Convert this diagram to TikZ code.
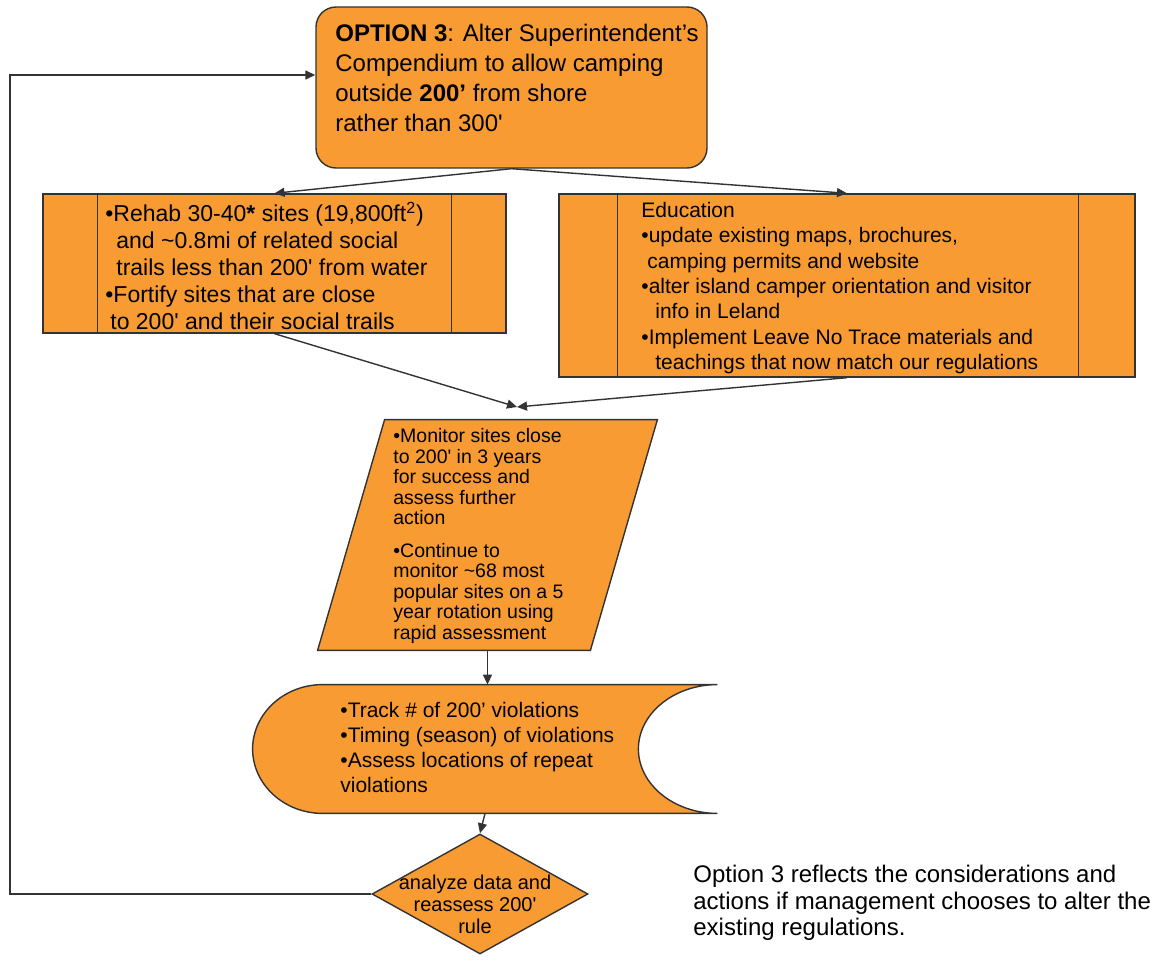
\documentclass[tikz,border=0pt]{standalone}
\usepackage{fontspec}
\setmainfont{Liberation Sans}
\usepackage{tikz}
\usetikzlibrary{positioning, calc, arrows.meta, shapes.geometric}
\definecolor{optorange}{HTML}{F89B33}
\newcommand{\ft}{\textquotesingle}

\begin{document}
\begin{tikzpicture}[x=0.5pt, y=-0.5pt, >={Triangle[length=5pt, width=4.5pt]}, % pixel grid, y downwards
    box/.style={draw=black!80, fill=optorange, line width=0.7pt, inner sep=0pt},
    txt/.style={anchor=north west, align=left, inner sep=0pt},
    link/.style={->, draw=black!80, line width=0.7pt}]

    \useasboundingbox (0,0) rectangle (1169,964);

    % 1. Shapes
    \node[box, rounded corners=10pt, minimum width=195.5pt, minimum height=80.5pt] (opt) at (511.5,87.5) {};
    \node[box, minimum width=231.5pt, minimum height=69.5pt] (rehab) at (274.5,263.5) {};
    \node[box, minimum width=288pt, minimum height=91.5pt] (edu) at (847,285.5) {};
    \node[inner sep=0pt, minimum width=169.5pt, minimum height=115pt] (mon) at (487.5,535) {};
    \node[inner sep=0pt, minimum width=232pt, minimum height=64pt] (track) at (485,749) {};
    \node[box, diamond, minimum width=108pt, minimum height=60pt] (rule) at (480,894) {};

    % side bars of the two process boxes
    \draw[line width=0.7pt, draw=black!80]
        ($(rehab.north west)+(55,0)$) -- ($(rehab.south west)+(55,0)$)
        ($(rehab.north east)+(-55,0)$) -- ($(rehab.south east)+(-55,0)$)
        ($(edu.north west)+(59,0)$) -- ($(edu.south west)+(59,0)$)
        ($(edu.north east)+(-57,0)$) -- ($(edu.south east)+(-57,0)$);

    % parallelogram (monitoring)
    \filldraw[box] (mon.south west) -- ($(mon.north west)+(67,0)$) -- (mon.north east)
        -- ($(mon.south east)+(-67,0)$) -- cycle;

    % stored data shape (tracking)
    \filldraw[box] ($(track.north west)+(70,0)$) -- (track.north east)
        .. controls +(-43.6,0) and +(0,-35.3) .. ($(track.east)+(-79,0)$)
        .. controls +(0,35.3) and +(-43.6,0) .. (track.south east)
        -- ($(track.south west)+(70,0)$)
        .. controls +(-38.7,0) and +(0,35.3) .. (track.west)
        .. controls +(0,-35.3) and +(-38.7,0) .. ($(track.north west)+(70,0)$) -- cycle;

    % 2. Texts
    \node[txt, font=\fontsize{12}{15}\selectfont] (optText) at (335,24)
        {\textbf{OPTION 3}: Alter Superintendent’s\\Compendium to allow camping\\outside \textbf{200’} from shore\\rather than 300\ft};
    \node[txt, font=\fontsize{11.5}{13.4}\selectfont] (rehabText) at (105,201.5)
        {•Rehab 30-40\textbf{*} sites (19,800ft\textsuperscript{2})\\\hspace*{5.5pt}and \textasciitilde0.8mi of related social\\\hspace*{5.5pt}trails less than 200\ft{} from water\\•Fortify sites that are close\\\hspace*{2.5pt}to 200\ft{} and their social trails};
    \node[txt, font=\fontsize{10.5}{12.65}\selectfont] (eduText) at (641,202)
        {Education\\•update existing maps, brochures,\\\hspace*{3pt}camping permits and website\\•alter island camper orientation and visitor\\\hspace*{7pt}info in Leland\\•Implement Leave No Trace materials and\\\hspace*{7pt}teachings that now match our regulations};
    \node[txt, font=\fontsize{9.75}{10.25}\selectfont] (monText) at (393,428)
        {•Monitor sites close\\to 200\ft{} in 3 years\\for success and\\assess further\\action\\[6pt]•Continue to\\monitor \textasciitilde68 most\\popular sites on a 5\\year rotation using\\rapid assessment};
    \node[txt, font=\fontsize{10.5}{12.5}\selectfont] (trackText) at (340,702)
        {•Track \# of 200’ violations\\•Timing (season) of violations\\•Assess locations of repeat\\violations};
    \node[anchor=north, align=center, inner sep=0pt, font=\fontsize{10}{11}\selectfont] (ruleText) at (475,875)
        {analyze data and\\reassess 200\ft\\rule};
    \node[txt, font=\fontsize{12}{13.25}\selectfont] (note) at (693,865)
        {Option 3 reflects the considerations and\\actions if management chooses to alter the\\existing regulations.};

    % 3. Connectors
    \coordinate (meet) at (517,407);
    \coordinate (loop) at (10,894);
    \draw[link] (opt.south) -- (rehab.north);
    \draw[link] (opt.south) -- (edu.north);
    \draw[link] (rehab.south) -- (meet);
    \draw[link] (edu.south) -- (meet);
    \draw[link] (mon.south) -- (mon.south |- track.north);
    \draw[link] (track.south) -- (rule.north);
    \draw[link] (rule.west) -- (loop) |- ($(opt.west)+(0,-12.5)$);
\end{tikzpicture}
\end{document}
